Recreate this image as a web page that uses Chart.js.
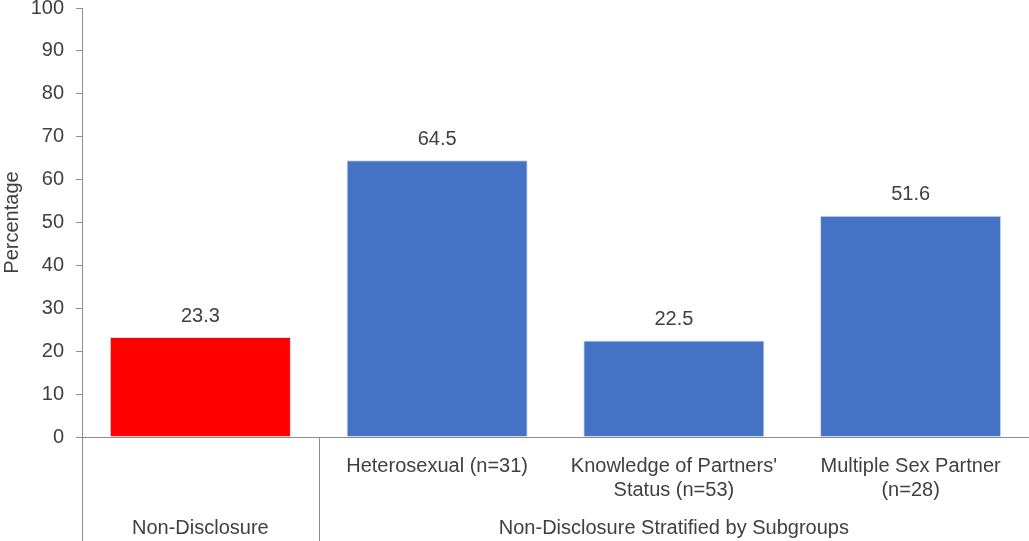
<!DOCTYPE html>
<html>
<head>
<meta charset="utf-8">
<script src="https://cdn.jsdelivr.net/npm/chart.js@4/dist/chart.umd.min.js"></script>
<style>
html,body{margin:0;padding:0;background:#fff;}
#wrap{width:1029px;height:541px;position:relative;}
</style>
</head>
<body>
<div id="wrap"><canvas id="c" width="1029" height="541"></canvas></div>
<script>
const categoryLabels = ["", "Heterosexual (n=31)", ["Knowledge of Partners'", "Status (n=53)"], ["Multiple Sex Partner", "(n=28)"]];
const values = [23.3, 64.5, 22.5, 51.6];
const barColors = ["#FF0000", "#4472C4", "#4472C4", "#4472C4"];
const groups = ["Non-Disclosure", "Non-Disclosure Stratified by Subgroups"];
const groupSpans = [[0, 0], [1, 3]];
const yTicks = [0, 10, 20, 30, 40, 50, 60, 70, 80, 90, 100];

const FONT = "'Liberation Sans', Arial, sans-serif";
const FSIZE = 20;
const TEXT = "#404040";
const AXIS = "#8c8c8c";

const multiLevel = {
  id: 'multiLevel',
  afterDraw(chart) {
    const ctx = chart.ctx;
    const xs = chart.scales.x;
    const area = chart.chartArea;
    const H = chart.height;
    const half = (xs.getPixelForValue(1) - xs.getPixelForValue(0)) / 2;
    ctx.save();
    ctx.strokeStyle = AXIS;
    ctx.lineWidth = 1;
    const bounds = [];
    groupSpans.forEach(s => {
      bounds.push(xs.getPixelForValue(s[0]) - half);
    });
    bounds.push(xs.getPixelForValue(groupSpans[groupSpans.length - 1][1]) + half);
    bounds.forEach(b => {
      const x = Math.round(b) + 0.5;
      ctx.beginPath();
      ctx.moveTo(x, area.bottom);
      ctx.lineTo(x, H);
      ctx.stroke();
    });
    ctx.fillStyle = TEXT;
    ctx.font = FSIZE + "px " + FONT;
    ctx.textAlign = 'center';
    ctx.textBaseline = 'middle';
    groups.forEach((g, i) => {
      const x0 = xs.getPixelForValue(groupSpans[i][0]) - half;
      const x1 = xs.getPixelForValue(groupSpans[i][1]) + half;
      ctx.fillText(g, (x0 + x1) / 2, 528);
    });
    const meta = chart.getDatasetMeta(0);
    meta.data.forEach((el, i) => {
      ctx.textBaseline = 'bottom';
      ctx.fillText(values[i].toFixed(1), el.x, el.y - 11);
    });
    ctx.restore();
  }
};

new Chart(document.getElementById('c'), {
  type: 'bar',
  data: {
    labels: categoryLabels,
    datasets: [{
      data: values,
      backgroundColor: barColors,
      borderColor: "rgba(205,218,240,1)",
      borderWidth: 1,
      categoryPercentage: 1,
      barPercentage: 0.765
    }]
  },
  options: {
    responsive: false,
    animation: false,
    devicePixelRatio: 1,
    layout: { padding: { top: 8, right: 0, left: 0, bottom: 0 } },
    plugins: { legend: { display: false }, tooltip: { enabled: false } },
    scales: {
      x: {
        grid: { display: false },
        border: { display: true, color: AXIS, width: 1 },
        ticks: { color: TEXT, font: { family: FONT, size: FSIZE }, padding: 9, maxRotation: 0, autoSkip: false },
        afterFit(s) { s.height = 104; s.paddingLeft = 0; s.paddingRight = 0; }
      },
      y: {
        min: 0, max: 100,
        afterBuildTicks(s) { s.ticks = yTicks.map(v => ({ value: v })); },
        grid: { display: true, drawOnChartArea: false, drawTicks: true, tickLength: 6, color: AXIS },
        border: { display: true, color: AXIS, width: 1 },
        ticks: { color: TEXT, font: { family: FONT, size: FSIZE }, padding: 12 },
        title: { display: true, text: "Percentage", color: TEXT, font: { family: FONT, size: FSIZE }, padding: 0 },
        afterFit(s) { s.width = 82; s.paddingTop = 0; s.paddingBottom = 0; }
      }
    }
  },
  plugins: [multiLevel]
});
</script>
</body>
</html>
